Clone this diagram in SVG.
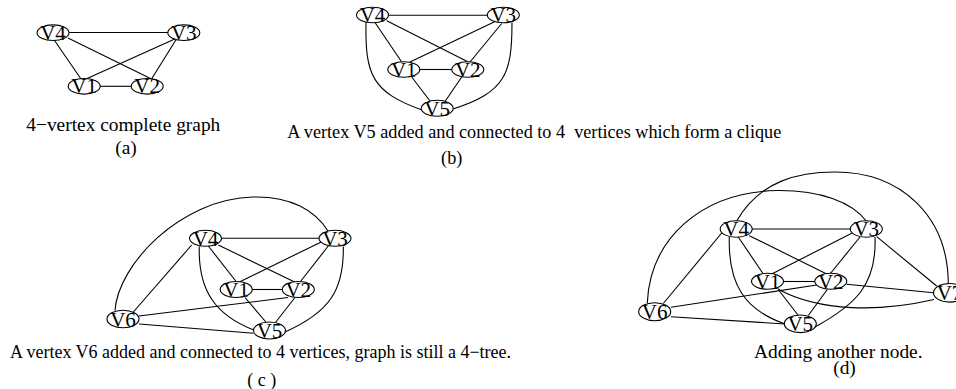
<svg xmlns="http://www.w3.org/2000/svg" width="956" height="389" viewBox="0 0 956 389">
<style>
.e{stroke:#000;stroke-width:1.1;fill:none}
.n ellipse{fill:#fff;stroke:#000;stroke-width:1.1}
.n text{font-family:"Liberation Serif","Times New Roman",serif;font-size:21px;text-anchor:middle;fill:#000}
.c{font-family:"Liberation Serif","Times New Roman",serif;text-anchor:middle;fill:#000;white-space:pre}
</style>
<rect width="956" height="389" fill="#fff"/>

<!-- Panel (a) -->
<g id="a-edges" class="e">
<line x1="69" y1="32.5" x2="168" y2="32.5"/>
<line x1="53.5" y1="39" x2="81" y2="79"/>
<line x1="68" y1="38" x2="151.5" y2="79"/>
<line x1="177" y1="38" x2="86" y2="79"/>
<line x1="176.5" y1="39" x2="151.5" y2="79"/>
<line x1="100" y1="86.3" x2="131" y2="86.3"/>
</g>
<g id="a-v4" class="n"><ellipse cx="53" cy="32.7" rx="16" ry="7.8"/><text x="53" y="39.7">V4</text></g>
<g id="a-v3" class="n"><ellipse cx="183.8" cy="32.7" rx="16" ry="7.8"/><text x="183.8" y="39.7">V3</text></g>
<g id="a-v1" class="n"><ellipse cx="84.2" cy="86.3" rx="16" ry="7.8"/><text x="84.2" y="93.3">V1</text></g>
<g id="a-v2" class="n"><ellipse cx="147.2" cy="86.3" rx="16" ry="7.8"/><text x="147.2" y="93.3">V2</text></g>
<text class="c" x="123.3" y="130.5" font-size="19.4">4−vertex complete graph</text>
<text class="c" x="126" y="153.5" font-size="19.4">(a)</text>

<!-- Panel (b) -->
<g id="b-edges" class="e">
<line x1="388" y1="15.3" x2="487.5" y2="15.3"/>
<line x1="375" y1="22.5" x2="401.7" y2="62"/>
<line x1="386.7" y1="20.7" x2="468.3" y2="62"/>
<line x1="496.7" y1="20.7" x2="410" y2="62"/>
<line x1="501.7" y1="23.5" x2="470" y2="62"/>
<line x1="420" y1="69.5" x2="452" y2="69.5"/>
<line x1="411.7" y1="77" x2="430" y2="101"/>
<line x1="461.7" y1="77" x2="445" y2="101.5"/>
<path d="M366,22 C365,75 372,92 422,110"/>
<path d="M512,22.5 C512,75 505,92 453,109"/>
</g>
<g id="b-v4" class="n"><ellipse cx="372.5" cy="15" rx="16" ry="7.8"/><text x="372.5" y="22">V4</text></g>
<g id="b-v3" class="n"><ellipse cx="503.3" cy="15" rx="16" ry="7.8"/><text x="503.3" y="22">V3</text></g>
<g id="b-v1" class="n"><ellipse cx="403.8" cy="69.5" rx="16" ry="7.8"/><text x="403.8" y="76.5">V1</text></g>
<g id="b-v2" class="n"><ellipse cx="467.8" cy="69.5" rx="16" ry="7.8"/><text x="467.8" y="76.5">V2</text></g>
<g id="b-v5" class="n"><ellipse cx="437.2" cy="108.3" rx="16" ry="8"/><text x="437.2" y="115.5">V5</text></g>
<text class="c" x="534.2" y="138.3" font-size="18.2">A vertex V5 added and connected to 4  vertices which form a clique</text>
<text class="c" x="451.7" y="163.5" font-size="18.2">(b)</text>

<!-- Panel (c) -->
<g id="c-edges" class="e">
<line x1="221" y1="238.3" x2="319.5" y2="238.3"/>
<line x1="208.3" y1="246" x2="237.3" y2="283"/>
<line x1="218.3" y1="245" x2="296.7" y2="283"/>
<line x1="321.7" y1="241.7" x2="237.3" y2="283"/>
<line x1="328.3" y1="246" x2="299.3" y2="283"/>
<line x1="252" y1="289.5" x2="282.5" y2="289.5"/>
<line x1="245" y1="297.5" x2="266.7" y2="323"/>
<line x1="295" y1="297.5" x2="275" y2="323"/>
<path d="M199.3,246.5 C198,290 215,315 254,330"/>
<path d="M343.3,246.5 C344,290 330,312 285,332"/>
<line x1="133.3" y1="312" x2="191.7" y2="245"/>
<line x1="139" y1="316" x2="288" y2="297.5"/>
<line x1="139" y1="324" x2="253.5" y2="333.3"/>
<path d="M115,310.5 C118,265 180,199 253,197 C290,196 315,210 328.3,231.5"/>
</g>
<g id="c-v4" class="n"><ellipse cx="205.5" cy="238.3" rx="16" ry="8"/><text x="205.5" y="245.5">V4</text></g>
<g id="c-v3" class="n"><ellipse cx="335" cy="238.3" rx="16" ry="8"/><text x="335" y="245.5">V3</text></g>
<g id="c-v1" class="n"><ellipse cx="236.2" cy="289.5" rx="16" ry="8"/><text x="236.2" y="296.7">V1</text></g>
<g id="c-v2" class="n"><ellipse cx="298.3" cy="289.5" rx="16" ry="8"/><text x="298.3" y="296.7">V2</text></g>
<g id="c-v5" class="n"><ellipse cx="269.5" cy="330.5" rx="16" ry="8.5"/><text x="269.5" y="338">V5</text></g>
<g id="c-v6" class="n"><ellipse cx="123" cy="319" rx="16" ry="8.8"/><text x="123" y="326.5">V6</text></g>
<text class="c" x="260.5" y="358.3" font-size="18">A vertex V6 added and connected to 4 vertices, graph is still a 4−tree.</text>
<text class="c" x="261.7" y="386" font-size="18">( c )</text>

<!-- Panel (d) -->
<g id="d-edges" class="e">
<line x1="752" y1="229" x2="850.5" y2="229"/>
<line x1="738.3" y1="237" x2="763.3" y2="274"/>
<line x1="749.3" y1="235.7" x2="826.7" y2="274"/>
<line x1="851.7" y1="233.3" x2="771.7" y2="274"/>
<line x1="860" y1="237" x2="830" y2="274"/>
<line x1="783" y1="281.5" x2="815" y2="281.5"/>
<line x1="778.3" y1="289.5" x2="798.3" y2="315.5"/>
<line x1="827.3" y1="289.5" x2="808.3" y2="315.5"/>
<path d="M729.3,237 C728,285 745,310 785,324"/>
<path d="M875,237 C877,285 855,305 815,327"/>
<line x1="663.3" y1="303.5" x2="721.7" y2="233"/>
<line x1="671" y1="307.3" x2="816.7" y2="285"/>
<line x1="671" y1="316.7" x2="785" y2="324"/>
<path d="M647.3,303 C650,240 700,192 777,190.5 C820,190 852,202 866.7,221.5"/>
<path d="M736.7,221 C760,180 800,172 835,172 C900,172 948,215 948.3,284"/>
<line x1="876.7" y1="236.7" x2="936.7" y2="286"/>
<line x1="846.7" y1="284.3" x2="933.5" y2="292.7"/>
<path d="M778.3,289.3 C820,312 880,312 934,299.5"/>
</g>
<g id="d-v4" class="n"><ellipse cx="736.2" cy="229" rx="16" ry="8.3"/><text x="736.2" y="236.3">V4</text></g>
<g id="d-v3" class="n"><ellipse cx="866.3" cy="229" rx="16" ry="8.3"/><text x="866.3" y="236.3">V3</text></g>
<g id="d-v1" class="n"><ellipse cx="767.5" cy="281.3" rx="16" ry="8"/><text x="767.5" y="288.5">V1</text></g>
<g id="d-v2" class="n"><ellipse cx="830.8" cy="281.3" rx="16" ry="8"/><text x="830.8" y="288.5">V2</text></g>
<g id="d-v5" class="n"><ellipse cx="800.3" cy="323.8" rx="16" ry="8.8"/><text x="800.3" y="331.3">V5</text></g>
<g id="d-v6" class="n"><ellipse cx="654.7" cy="311.7" rx="16" ry="9"/><text x="654.7" y="319.2">V6</text></g>
<g id="d-v7" class="n"><ellipse cx="949.5" cy="292.8" rx="16" ry="9.3"/><text x="949.5" y="300.3">V7</text></g>
<text class="c" x="838.3" y="358" font-size="19.4">Adding another node.</text>
<text class="c" x="844.5" y="374.3" font-size="19.4">(d)</text>
</svg>
